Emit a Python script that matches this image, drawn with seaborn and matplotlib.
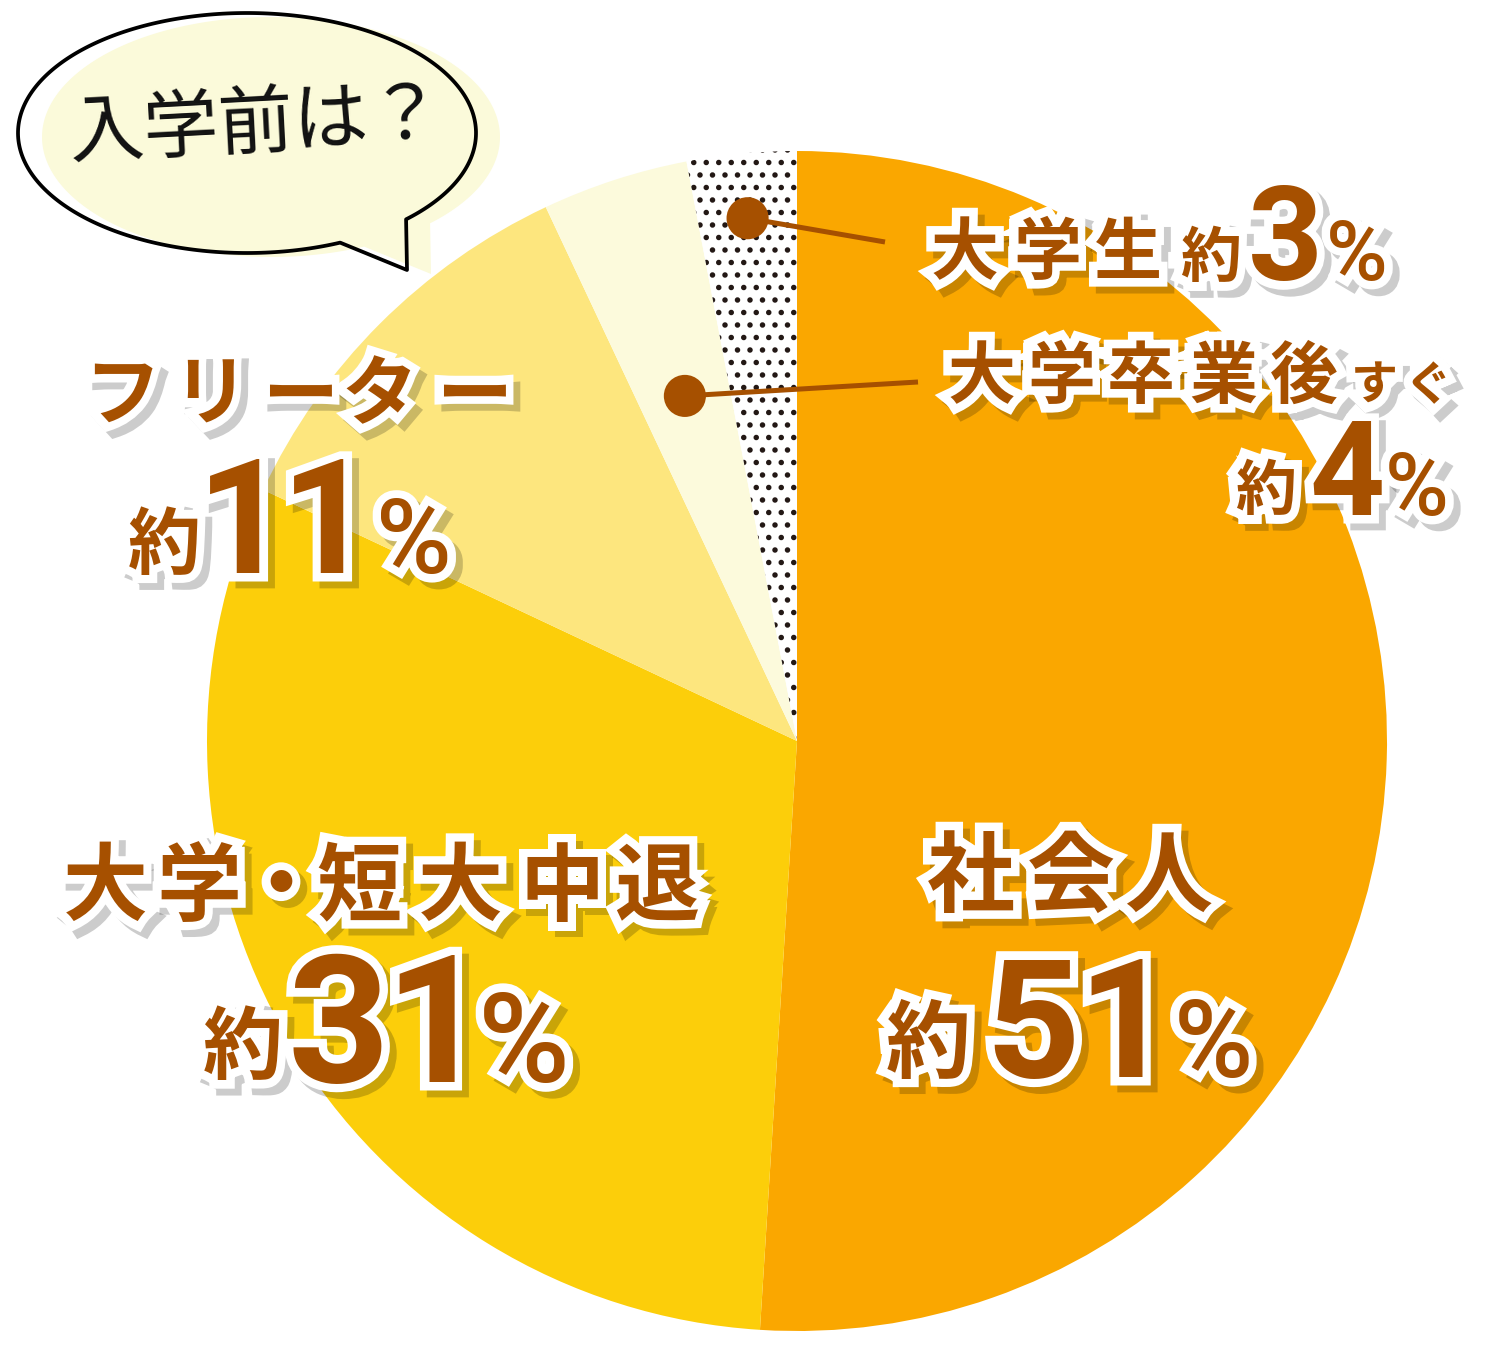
import numpy as np
import matplotlib
matplotlib.use("Agg")
import matplotlib.pyplot as plt
import matplotlib.patheffects as pe
from matplotlib.patches import Circle, Polygon
import seaborn as sns

# ---------------- data ----------------
categories = ["社会人", "大学・短大中退", "フリーター", "大学卒業後すぐ", "大学生"]
shares = [51, 31, 11, 4, 3]
slice_colors = ["#FAA700", "#FCCE0A", "#FDE67E", "#FCFADC", "#FFFFFF"]
slice_hatches = ["", "", "", "", ".."]
bubble_text = "入学前は？"

# ---------------- style ----------------
sns.set_theme(style="white")
plt.rcParams["font.family"] = ["Noto Sans CJK JP", "DejaVu Sans"]
plt.rcParams["hatch.linewidth"] = 1.4
plt.rcParams["hatch.color"] = "#231815"

BROWN = "#A65000"
DPI = 150
W, H = 1500, 1350
PT = 72 / DPI          # points per pixel


def Y(y):
    return H - np.asarray(y)


fig = plt.figure(figsize=(W / DPI, H / DPI), dpi=DPI)
fig.patch.set_facecolor("white")
ax = fig.add_axes([0, 0, 1, 1])

# ---------------- pie ----------------
CX, CY, R = 797, 741, 590
wedges, _ = ax.pie(shares, colors=slice_colors, startangle=90, counterclock=False,
                   center=(CX, float(Y(CY))), radius=R,
                   wedgeprops=dict(linewidth=0))
for w, h in zip(wedges, slice_hatches):
    if h:
        w.set_hatch(h)
        w.set_edgecolor("#231815")
        w.set_linewidth(0)

ax.set_xlim(0, W)
ax.set_ylim(0, H)
ax.set_aspect("equal")
ax.axis("off")

# ---------------- speech bubble ----------------
t = np.radians(np.linspace(66, 406, 300))
bx = np.concatenate([247 + 229 * np.cos(t), [407]])
by = np.concatenate([133 + 120 * np.sin(t), [270]])
ax.add_patch(Polygon(np.column_stack([bx + 24, Y(by + 4)]), closed=True,
                     fc="#FBFADA", ec="none", zorder=3))
ax.add_patch(Polygon(np.column_stack([bx, Y(by)]), closed=True,
                     fc="none", ec="black", lw=1.8, joinstyle="round", zorder=4))
ax.text(256, float(Y(126)), bubble_text, fontsize=75 * PT, rotation=3,
        rotation_mode="anchor", ha="center", va="center", color="#111111", zorder=5)

# ---------------- leader lines ----------------
def wedge_point(w, frac_r):
    ang = np.radians((w.theta1 + w.theta2) / 2)
    return CX + frac_r * R * np.cos(ang), float(Y(CY)) + frac_r * R * np.sin(ang)

leaders = [(wedges[4], 0.89, (885, 242)), (wedges[3], 0.615, (918, 382))]
for w, fr, (ex, ey) in leaders:
    px, py = wedge_point(w, fr)
    ax.plot([px, ex], [py, float(Y(ey))], color=BROWN, lw=5 * PT,
            solid_capstyle="butt", zorder=8)
    ax.add_patch(Circle((px, py), 20, color=BROWN, zorder=9))

# ---------------- labels ----------------
STROKE = 17 * PT
shadow_fx = [pe.PathPatchEffect(offset=(3.3, -3.3), facecolor="none",
                                edgecolor="black", linewidth=STROKE, alpha=0.2)]
white_fx = [pe.PathPatchEffect(facecolor="white", edgecolor="white",
                               linewidth=STROKE)]
LATIN = ["Roboto", "DejaVu Sans"]


def run(spec):
    for s, xc, em, base in spec:
        if s.isdigit():
            fam, wt = LATIN, "bold"
        elif s == "%":
            fam, wt = LATIN, "medium"
        else:
            fam, wt = ["Noto Sans CJK JP", "DejaVu Sans"], "bold"
        for z, fx in ((10, shadow_fx), (11, white_fx), (12, None)):
            txt = ax.text(xc, float(Y(base)), s, fontsize=em * PT, ha="center",
                          va="baseline", color=BROWN, fontweight=wt,
                          family=fam, zorder=z)
            if fx is not None:
                txt.set_path_effects(fx)


# 大学生 約3%
run([("大", 965, 68, 274), ("学", 1047, 68, 274), ("生", 1128, 68, 274),
     ("約", 1211, 61, 277), ("3", 1285, 131, 280), ("%", 1357, 84, 280)])
# 大学卒業後すぐ 約4%
run([("大", 982, 68, 398), ("学", 1061, 68, 398), ("卒", 1141, 68, 398),
     ("業", 1223, 68, 398), ("後", 1304, 68, 398),
     ("す", 1374, 47, 400), ("ぐ", 1428, 47, 400),
     ("約", 1266, 61, 510), ("4", 1347, 131, 515), ("%", 1417, 87, 515)])
# フリーター 約11%
run([("フ", 122, 76, 419), ("リ", 210, 76, 419), ("ー", 300, 76, 419),
     ("タ", 379, 76, 419), ("ー", 474, 76, 419),
     ("約", 164, 73, 568), ("1", 243, 159, 573), ("1", 327, 159, 573),
     ("%", 414, 103, 573)])
# 大学・短大中退 約31%
run([("大", 105, 85, 914), ("学", 199, 85, 914), ("・", 281, 85, 914),
     ("短", 359, 85, 914), ("大", 460, 85, 914), ("中", 562, 85, 914),
     ("退", 657, 85, 914),
     ("約", 243, 80, 1073), ("3", 339, 178, 1082), ("1", 435, 178, 1082),
     ("%", 524, 125, 1082)])
# 社会人 約51%
run([("社", 971, 88, 905), ("会", 1071, 88, 905), ("人", 1168, 88, 905),
     ("約", 928, 85, 1071), ("5", 1033, 165, 1077), ("1", 1125, 165, 1077),
     ("%", 1213, 108, 1077)])

fig.savefig("out.png", dpi=DPI, facecolor="white")
